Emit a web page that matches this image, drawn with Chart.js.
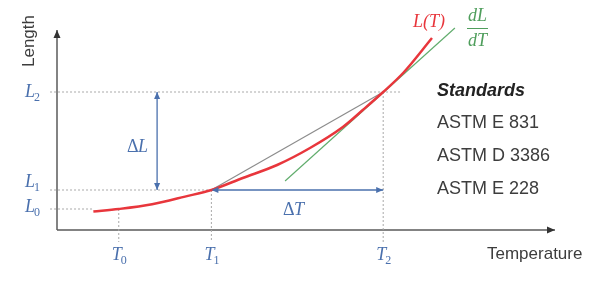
<!DOCTYPE html>
<html>
<head>
<meta charset="utf-8">
<script src="https://cdn.jsdelivr.net/npm/chart.js@4"></script>
<style>
  html, body { margin: 0; padding: 0; background: #fff; }
  #wrap { width: 605px; height: 287px; position: relative; }
</style>
</head>
<body>
<div id="wrap"><canvas id="chart"></canvas></div>
<script>
// curve L(T) (T and L in arbitrary units)
const curveT = [7.3, 12.4, 19.1, 25.7, 31, 37.3, 44.2, 50.8, 57.4, 61.4, 65.5, 69.5, 75.3];
const curveL = [9.2, 10.5, 12.9, 16.7, 20, 26, 32.5, 41, 51.5, 60, 69, 78.5, 96];

// marked temperatures and lengths
const tMarks = [12.4, 31, 65.5];
const lMarks = [10.5, 20, 69];

// tangent dL/dT at T2
const tangentT = [45.8, 79.9];
const tangentL = [24.5, 101];

// axis extents
const axisT = [0, 100];
const axisL = [0, 100];

const standards = ['ASTM E 831', 'ASTM D 3386', 'ASTM E 228'];

const BLUE = '#4a70ad';
const GRID = '#a9a9a9';
const AXIS = '#5a5a5a';
const TEXT = '#3d3d3d';

const pts = (xs, ys) => xs.map((x, i) => ({ x: x, y: ys[i] }));

const lineSet = (data, color, width, dash) => ({
    data: data,
    showLine: true,
    borderColor: color,
    borderWidth: width,
    borderDash: dash || [],
    pointRadius: 0,
    fill: false,
    clip: false
});

const datasets = [
    Object.assign(lineSet(pts(curveT, curveL), '#e8363c', 2.5), { cubicInterpolationMode: 'monotone' }),
    lineSet(pts(tangentT, tangentL), '#62ad6e', 1.2),
    lineSet([{ x: tMarks[1], y: lMarks[1] }, { x: tMarks[2], y: lMarks[2] }], '#8c8c8c', 1.2),
    // delta arrows
    lineSet([{ x: 20.1, y: lMarks[1] }, { x: 20.1, y: lMarks[2] }], BLUE, 1.3),
    lineSet([{ x: tMarks[1], y: lMarks[1] }, { x: tMarks[2], y: lMarks[1] }], BLUE, 1.3),
    // dashed guides
    lineSet([{ x: -1.4, y: lMarks[0] }, { x: curveT[0], y: lMarks[0] }], GRID, 1, [2, 2]),
    lineSet([{ x: -1.4, y: lMarks[1] }, { x: tMarks[1], y: lMarks[1] }], GRID, 1, [2, 2]),
    lineSet([{ x: -1.4, y: lMarks[2] }, { x: 69.1, y: lMarks[2] }], GRID, 1, [2, 2]),
    lineSet([{ x: tMarks[0], y: lMarks[0] }, { x: tMarks[0], y: -6 }], GRID, 1, [2, 2]),
    lineSet([{ x: tMarks[1], y: lMarks[1] }, { x: tMarks[1], y: -6 }], GRID, 1, [2, 2]),
    lineSet([{ x: tMarks[2], y: lMarks[2] }, { x: tMarks[2], y: -6 }], GRID, 1, [2, 2]),
    // axes
    lineSet([{ x: axisT[0], y: axisL[0] }, { x: axisT[1], y: axisL[0] }], AXIS, 1.5),
    lineSet([{ x: axisT[0], y: axisL[0] }, { x: axisT[0], y: axisL[1] }], AXIS, 1.5)
];

function arrowHead(ctx, x, y, angle, color, len, half) {
    ctx.save();
    ctx.translate(x, y);
    ctx.rotate(angle);
    ctx.fillStyle = color;
    ctx.beginPath();
    ctx.moveTo(0, 0);
    ctx.lineTo(-len, -half);
    ctx.lineTo(-len, half);
    ctx.closePath();
    ctx.fill();
    ctx.restore();
}

function subLabel(ctx, main, sub, x, y, color) {
    ctx.fillStyle = color;
    ctx.font = 'italic 18px "Liberation Serif"';
    ctx.fillText(main, x, y);
    const w = ctx.measureText(main).width;
    ctx.font = '12px "Liberation Serif"';
    ctx.fillText(sub, x + w - 1, y + 4);
}

const decorations = {
    id: 'decorations',
    afterDatasetsDraw(chart) {
        const ctx = chart.ctx;
        const xs = chart.scales.x, ys = chart.scales.y;
        const px = v => xs.getPixelForValue(v);
        const py = v => ys.getPixelForValue(v);
        ctx.save();
        ctx.textAlign = 'left';
        ctx.textBaseline = 'alphabetic';

        // axis arrows
        arrowHead(ctx, px(axisT[1]), py(axisL[0]), 0, '#333', 8, 3.5);
        arrowHead(ctx, px(axisT[0]), py(axisL[1]), -Math.PI / 2, '#333', 8, 3.5);

        // delta arrows
        arrowHead(ctx, px(20.1), py(lMarks[2]), -Math.PI / 2, BLUE, 7, 3);
        arrowHead(ctx, px(20.1), py(lMarks[1]), Math.PI / 2, BLUE, 7, 3);
        arrowHead(ctx, px(tMarks[1]), py(lMarks[1]), Math.PI, BLUE, 7, 3);
        arrowHead(ctx, px(tMarks[2]), py(lMarks[1]), 0, BLUE, 7, 3);

        // L labels
        const lOff = [3, -3, 5];
        lMarks.forEach((v, i) => subLabel(ctx, 'L', String(i), 25, py(v) + lOff[i], BLUE));
        // T labels
        tMarks.forEach((v, i) => subLabel(ctx, 'T', String(i), px(v) - 7, 260, BLUE));

        // delta texts
        ctx.fillStyle = BLUE;
        ctx.font = '18px "Liberation Serif"';
        ctx.fillText('\u0394', 127, 152);
        ctx.fillText('\u0394', 283, 215);
        ctx.font = 'italic 18px "Liberation Serif"';
        ctx.fillText('L', 138, 152);
        ctx.fillText('T', 294, 215);

        // L(T)
        ctx.fillStyle = '#e8363c';
        ctx.fillText('L(T)', 413, 27);

        // dL/dT
        ctx.fillStyle = '#4f9e5c';
        ctx.fillText('dL', 468, 21);
        ctx.fillText('dT', 468, 46);
        ctx.strokeStyle = '#4f9e5c';
        ctx.lineWidth = 1;
        ctx.beginPath();
        ctx.moveTo(467, 28.5);
        ctx.lineTo(488, 28.5);
        ctx.stroke();

        // axis titles
        ctx.fillStyle = TEXT;
        ctx.font = '17px "Liberation Sans"';
        ctx.fillText('Temperature', 487, 259);
        ctx.save();
        ctx.translate(29, 41);
        ctx.rotate(-Math.PI / 2);
        ctx.textAlign = 'center';
        ctx.textBaseline = 'middle';
        ctx.fillText('Length', 0, 0);
        ctx.restore();

        // standards list
        ctx.fillStyle = '#222';
        ctx.font = 'italic bold 18px "Liberation Sans"';
        ctx.fillText('Standards', 437, 96);
        ctx.fillStyle = TEXT;
        ctx.font = '18px "Liberation Sans"';
        standards.forEach((s, i) => ctx.fillText(s, 437, 128 + i * 33));

        ctx.restore();
    }
};

new Chart(document.getElementById('chart'), {
    type: 'scatter',
    data: { datasets: datasets },
    options: {
        responsive: true,
        maintainAspectRatio: false,
        animation: false,
        layout: { padding: { left: 57, right: 50, top: 10, bottom: 57 } },
        plugins: { legend: { display: false }, tooltip: { enabled: false } },
        scales: {
            x: { type: 'linear', min: 0, max: 100, display: false },
            y: { type: 'linear', min: 0, max: 110, display: false }
        }
    },
    plugins: [decorations]
});
</script>
</body>
</html>
